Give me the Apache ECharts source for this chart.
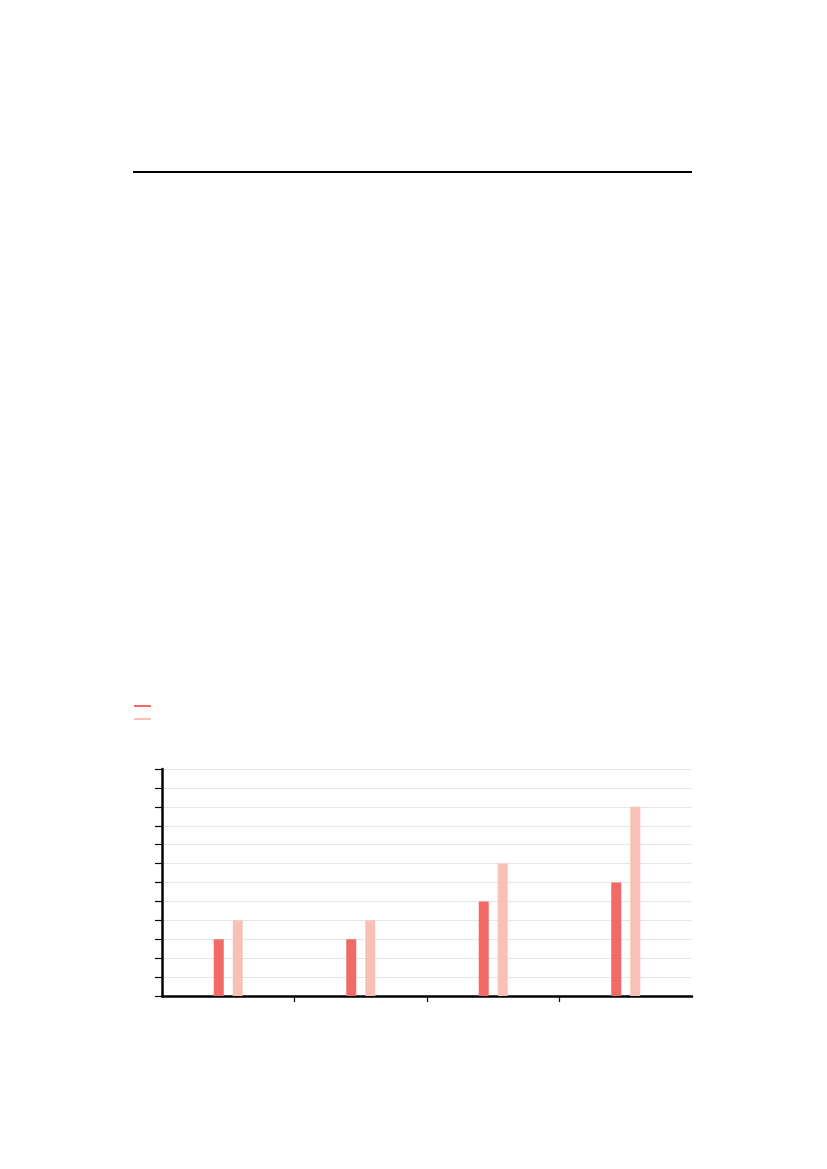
<!DOCTYPE html>
<html>
<head>
<meta charset="utf-8">
<script src="https://cdn.jsdelivr.net/npm/echarts@6/dist/echarts.min.js"></script>
<style>html,body{margin:0;padding:0;background:#fff}#c{width:827px;height:1169px}</style>
</head>
<body>
<div id="c"></div>
<script>
const categories = ['1', '2', '3', '4'];
const seriesANames = 'Series A';
const seriesBNames = 'Series B';
const seriesA = [3, 3, 5, 6];
const seriesB = [4, 4, 7, 10];
const yTicks = { min: 0, max: 12, interval: 1 };
const xBoundaryTicks = [1, 2, 3];

const chart = echarts.init(document.getElementById('c'), null, { renderer: 'canvas' });
chart.setOption({
  animation: false,
  backgroundColor: '#ffffff',
  graphic: [{
    type: 'line',
    shape: { x1: 133, y1: 172, x2: 692, y2: 172 },
    style: { stroke: '#000', lineWidth: 2 }
  }],
  legend: {
    orient: 'vertical',
    left: 129, top: 700,
    itemWidth: 17, itemHeight: 2, itemGap: 11,
    icon: 'rect',
    formatter: () => '',
    textStyle: { fontSize: 1 },
    data: [seriesANames, seriesBNames]
  },
  grid: { left: 162, right: 135, top: 769, bottom: 173, containLabel: false },
  xAxis: [{
    type: 'category',
    data: categories,
    axisLine: { lineStyle: { color: '#000', width: 2.5 } },
    axisTick: { show: false },
    axisLabel: { show: false },
    splitLine: { show: false }
  }, {
    type: 'value',
    position: 'bottom',
    min: 0, max: categories.length, interval: 1,
    axisLine: { show: false },
    axisTick: { show: true, length: 6, customValues: xBoundaryTicks, lineStyle: { color: '#000', width: 1.2 } },
    axisLabel: { show: false },
    splitLine: { show: false }
  }],
  yAxis: {
    type: 'value',
    min: yTicks.min, max: yTicks.max, interval: yTicks.interval,
    axisLine: { show: true, lineStyle: { color: '#000', width: 2.5 } },
    axisTick: { show: true, length: 7, lineStyle: { color: '#000', width: 1.2 } },
    axisLabel: { show: false },
    splitLine: { show: true, lineStyle: { color: '#e6e6e6', width: 1 } }
  },
  series: [
    { name: seriesANames, type: 'bar', data: seriesA, barWidth: 10, barGap: '90%',
      itemStyle: { color: '#f26a66' } },
    { name: seriesBNames, type: 'bar', data: seriesB, barWidth: 10, barGap: '90%',
      itemStyle: { color: '#f9c0b5' } }
  ]
});
</script>
</body>
</html>
